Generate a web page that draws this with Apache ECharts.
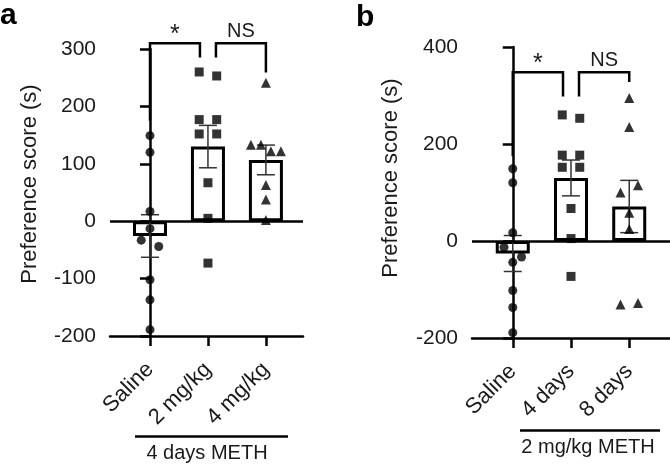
<!DOCTYPE html>
<html>
<head>
<meta charset="utf-8">
<script src="https://cdn.jsdelivr.net/npm/echarts@6/dist/echarts.min.js"></script>
<style>
  html, body { margin: 0; padding: 0; background: #fff; }
  #chart { width: 670px; height: 465px; }
</style>
</head>
<body>
<div id="chart"></div>
<script>
// ---- data ----
const categoriesA = ['Saline', '2 mg/kg', '4 mg/kg'];
const categoriesB = ['Saline', '4 days', '8 days'];
const groupLabelA = '4 days METH';
const groupLabelB = '2 mg/kg METH';
const yTitle = 'Preference score (s)';

const saline    = [149, 120, 17, -13, -33, -44, -102, -137, -189];
const meth2mg4d = [260, 253, 177, 177, 152, 152, 67, 5, -73];
const meth4mg4d = [241, 133, 133, 122, 122, 63, 38, 2];
const meth2mg8d = [295, 235, 100, 115, 58, 25, -131, -128];

const groupsA = [saline, meth2mg4d, meth4mg4d];
const groupsB = [saline, meth2mg4d, meth2mg8d];

// significance annotations: [fromCat, toCat, topLevel, leftLegEnd, rightLegEnd]
const bracketsA = [[0, 1, 310, 175, 285], [1, 2, 310, 285, 259]];
const bracketsB = [[0, 1, 348, 175, 298], [1, 2, 348, 298, 328]];
const bracketLabels = ['*', 'NS'];

// ---- helpers ----
const FONT = '"Liberation Sans", Arial, Helvetica, sans-serif';
const TXT = '#1a1a1a';
const symbols = ['circle', 'rect', 'triangle'];

function mean(a) { return a.reduce((s, v) => s + v, 0) / a.length; }
function sem(a) {
  const m = mean(a);
  const sd = Math.sqrt(a.reduce((s, v) => s + (v - m) * (v - m), 0) / (a.length - 1));
  return sd / Math.sqrt(a.length);
}

// beeswarm-like horizontal spreading of points that would overlap
function swarm(values, catIndex, pxPerUnitY, pxPerUnitX) {
  const idx = values.map((v, i) => i).sort((a, b) => values[b] - values[a]);
  const clusters = [];
  let cur = [];
  idx.forEach(i => {
    if (cur.length && (values[cur[0]] - values[i]) * pxPerUnitY >= 10) {
      clusters.push(cur); cur = [];
    }
    cur.push(i);
  });
  if (cur.length) clusters.push(cur);
  const out = [];
  clusters.forEach(c => {
    c.sort((a, b) => a - b);
    const n = c.length;
    const spacing = n > 1 ? Math.min(17.5, 30 / (n - 1)) : 0;
    c.forEach((i, k) => {
      const offPx = (k - (n - 1) / 2) * spacing;
      out.push([catIndex + offPx / pxPerUnitX, values[i]]);
    });
  });
  return out;
}

function panel(gi, grid, xr, yr, groups, cats, brackets) {
  const pxY = grid.height / (yr.max - yr.min);
  const pxX = grid.width / (xr.max - xr.min);
  const xAxis = {
    gridIndex: gi, type: 'value', min: xr.min, max: xr.max,
    axisLine: { onZero: false, lineStyle: { color: '#000', width: 2.5 } },
    axisTick: { customValues: [0, 1, 2], length: 10, lineStyle: { color: '#000', width: 2.5 } },
    axisLabel: {
      customValues: [0, 1, 2], rotate: 45, margin: 30,
      formatter: v => cats[Math.round(v)],
      color: TXT, fontSize: 22, fontFamily: FONT
    },
    splitLine: { show: false }
  };
  const yAxis = {
    gridIndex: gi, type: 'value', min: yr.min, max: yr.max, interval: yr.interval,
    axisLine: { show: true, lineStyle: { color: '#000', width: 2.5 } },
    axisTick: { show: true, length: 10, lineStyle: { color: '#000', width: 2.5 } },
    axisLabel: { color: TXT, fontSize: 21, fontFamily: FONT, margin: 14 },
    splitLine: { show: false }
  };
  const series = [];
  series.push({
    type: 'bar', xAxisIndex: gi, yAxisIndex: gi, barWidth: 34, z: 2,
    data: groups.map((g, i) => [i, mean(g)]),
    itemStyle: { color: '#fff', borderColor: '#000', borderWidth: 3 },
    silent: true,
    markLine: {
      silent: true, symbol: 'none', label: { show: false },
      lineStyle: { color: '#000', width: 2.5, type: 'solid' },
      data: [{ yAxis: 0 }]
    }
  });
  series.push({
    type: 'custom', xAxisIndex: gi, yAxisIndex: gi, z: 3, silent: true,
    data: groups.map((g, i) => [i, mean(g), sem(g)]),
    renderItem: (params, api) => {
      const x = api.value(0), m = api.value(1), e = api.value(2);
      const top = api.coord([x, m + e]);
      const bot = api.coord([x, m - e]);
      const hw = 9;
      const st = { stroke: '#333', lineWidth: 1.5 };
      return {
        type: 'group', children: [
          { type: 'line', shape: { x1: top[0], y1: top[1], x2: bot[0], y2: bot[1] }, style: st },
          { type: 'line', shape: { x1: top[0] - hw, y1: top[1], x2: top[0] + hw, y2: top[1] }, style: st },
          { type: 'line', shape: { x1: bot[0] - hw, y1: bot[1], x2: bot[0] + hw, y2: bot[1] }, style: st }
        ]
      };
    }
  });
  groups.forEach((g, i) => {
    series.push({
      type: 'scatter', xAxisIndex: gi, yAxisIndex: gi, z: 4, silent: true,
      symbol: symbols[i], symbolSize: i === 2 ? 10 : 9,
      itemStyle: { color: '#000' },
      data: swarm(g, i, pxY, pxX)
    });
  });
  series.push({
    type: 'custom', xAxisIndex: gi, yAxisIndex: gi, z: 5, silent: true, clip: false,
    data: brackets,
    renderItem: (params, api) => {
      const k = params.dataIndex, n = brackets.length;
      const a = api.coord([api.value(0), api.value(2)]);
      const b = api.coord([api.value(1), api.value(2)]);
      const x1 = a[0] + (k > 0 ? 8 : 0);
      const x2 = b[0] - (k < n - 1 ? 8 : 0);
      const yTop = a[1];
      const yL = api.coord([0, api.value(3)])[1];
      const yR = api.coord([0, api.value(4)])[1];
      const lab = bracketLabels[k];
      return {
        type: 'group', children: [
          { type: 'polyline', shape: { points: [[x1, yL], [x1, yTop], [x2, yTop], [x2, yR]] },
            style: { stroke: '#000', lineWidth: 2.5, fill: 'none' } },
          { type: 'text', style: {
              text: lab, x: (x1 + x2) / 2, y: yTop - (lab === '*' ? 8 : 12),
              textAlign: 'center', textVerticalAlign: 'middle',
              font: (lab === '*' ? '25px ' : '20px ') + FONT, fill: TXT } }
        ]
      };
    }
  });
  return { xAxis, yAxis, series };
}

const gridA = { left: 110, top: 49, width: 193, height: 287 };
const gridB = { left: 472, top: 47, width: 198, height: 291 };
const pA = panel(0, gridA, { min: -0.69, max: 2.64 }, { min: -200, max: 300, interval: 100 }, groupsA, categoriesA, bracketsA);
const pB = panel(1, gridB, { min: -0.70, max: 2.70 }, { min: -200, max: 400, interval: 200 }, groupsB, categoriesB, bracketsB);

const option = {
  animation: false,
  backgroundColor: '#fff',
  grid: [gridA, gridB],
  xAxis: [pA.xAxis, pB.xAxis],
  yAxis: [pA.yAxis, pB.yAxis],
  series: pA.series.concat(pB.series),
  graphic: [
    { type: 'text', x: 0, y: 1, style: { text: 'a', font: 'bold 30px ' + FONT, fill: '#000', textVerticalAlign: 'top' } },
    { type: 'text', x: 356, y: 3, style: { text: 'b', font: 'bold 30px ' + FONT, fill: '#000', textVerticalAlign: 'top' } },
    { type: 'text', x: 30, y: 184, rotation: Math.PI / 2,
      style: { text: yTitle, font: '22px ' + FONT, fill: TXT, textAlign: 'center', textVerticalAlign: 'middle' } },
    { type: 'text', x: 391, y: 178, rotation: Math.PI / 2,
      style: { text: yTitle, font: '22px ' + FONT, fill: TXT, textAlign: 'center', textVerticalAlign: 'middle' } },
    { type: 'line', shape: { x1: 135, y1: 436.5, x2: 288, y2: 436.5 }, style: { stroke: '#000', lineWidth: 2.5 } },
    { type: 'line', shape: { x1: 520, y1: 430.5, x2: 660, y2: 430.5 }, style: { stroke: '#000', lineWidth: 2.5 } },
    { type: 'text', x: 207, y: 453, style: { text: groupLabelA, font: '20px ' + FONT, fill: TXT, textAlign: 'center', textVerticalAlign: 'middle' } },
    { type: 'text', x: 588, y: 447, style: { text: groupLabelB, font: '20px ' + FONT, fill: TXT, textAlign: 'center', textVerticalAlign: 'middle' } }
  ]
};

const chart = echarts.init(document.getElementById('chart'), null, { renderer: 'canvas' });
chart.setOption(option);
</script>
</body>
</html>
